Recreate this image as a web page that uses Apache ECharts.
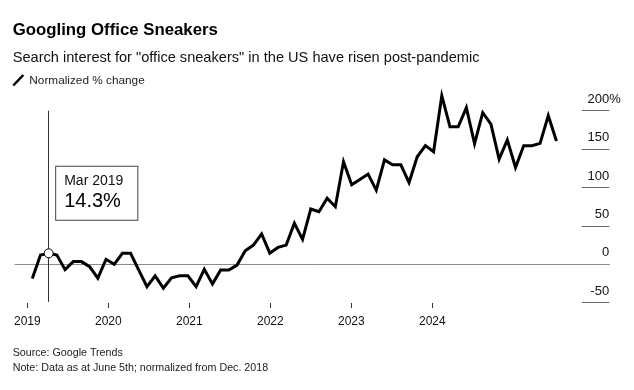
<!DOCTYPE html>
<html><head><meta charset="utf-8">
<script src="https://cdn.jsdelivr.net/npm/echarts@6/dist/echarts.min.js"></script>
<style>html,body{margin:0;padding:0;background:#fff}#c{width:634px;height:390px}</style>
</head><body><div id="c"></div>
<script>
// ---- data ----
const monthNames = ['Jan','Feb','Mar','Apr','May','Jun','Jul','Aug','Sep','Oct','Nov','Dec'];
const months = [];
for (let y = 2019; y <= 2024; y++) for (let m = 0; m < 12; m++) if (months.length < 65) months.push(monthNames[m] + ' ' + y);
const values = [
  -18.5, 12, 14.3, 12, -7, 3.5, 3.5, -3, -18, 6.5, 0, 14.3,
  14.3, -7.5, -29, -15, -31, -17.5, -15, -15, -29, -6.5, -25.5, -7.5,
  -7.5, -1, 17.5, 25, 39.5, 14.5, 22, 25, 53.5, 32.5, 72, 68.5,
  86, 75, 133.5, 103.5, 110.5, 117.5, 96.5, 136, 129.5, 129.5, 106.5, 140,
  154.5, 146.5, 219.5, 179, 179, 204, 157, 197.5, 182.5, 137, 162, 126,
  154.5, 154.5, 157.5, 193.5, 160.5
];
const yearTicks = [2019, 2020, 2021, 2022, 2023, 2024];
const yTicks = [-50, 0, 50, 100, 150, 200];
const highlightMonth = 'Mar 2019';

const FONT = '"Liberation Sans", Arial, Helvetica, sans-serif';
const hi = months.indexOf(highlightMonth);
const seriesData = values.map((v, i) => [i, v]);

const chart = echarts.init(document.getElementById('c'));
chart.setOption({
  animation: false,
  backgroundColor: '#fff',
  textStyle: { fontFamily: FONT },
  graphic: [
    { type: 'text', x: 12.7, y: 30, style: { text: 'Googling Office Sneakers', font: 'bold 16.8px ' + FONT, fill: '#000', verticalAlign: 'middle' } },
    { type: 'text', x: 12.7, y: 57.8, style: { text: 'Search interest for "office sneakers" in the US have risen post-pandemic', font: '14.6px ' + FONT, fill: '#111', verticalAlign: 'middle' } },
    { type: 'line', shape: { x1: 13.3, y1: 85.5, x2: 23.3, y2: 75 }, style: { stroke: '#000', lineWidth: 2.5 } },
    { type: 'text', x: 29.3, y: 80.7, style: { text: 'Normalized % change', font: '11.8px ' + FONT, fill: '#222', verticalAlign: 'middle' } },
    { type: 'text', x: 12.7, y: 352.7, style: { text: 'Source: Google Trends', font: '10.7px ' + FONT, fill: '#222', verticalAlign: 'middle' } },
    { type: 'text', x: 12.7, y: 368.3, style: { text: 'Note: Data as at June 5th; normalized from Dec. 2018', font: '10.7px ' + FONT, fill: '#222', verticalAlign: 'middle' } }
  ],
  grid: [
    { left: 15, top: 72.3, width: 594.3, height: 230.4 },
    { left: 581.7, top: 110.7, width: 27.6, height: 192 },
    { left: 27.3, top: 72.3, width: 405, height: 230.7 }
  ],
  xAxis: [
    { gridIndex: 0, type: 'value', min: -2.112, max: 70.452,
      axisLine: { show: true, onZero: true, lineStyle: { color: '#8c8c8c', width: 1 } },
      axisTick: { show: false }, axisLabel: { show: false }, splitLine: { show: false } },
    { gridIndex: 1, type: 'value', show: false },
    { gridIndex: 2, type: 'value', min: yearTicks[0], max: yearTicks[yearTicks.length - 1], interval: 1, position: 'bottom',
      axisLine: { show: false },
      axisTick: { show: true, length: 5, lineStyle: { color: '#333', width: 1 } },
      axisLabel: { margin: 13, fontSize: 12, color: '#111', fontFamily: FONT, showMinLabel: true, showMaxLabel: true, formatter: v => String(v) },
      splitLine: { show: false } }
  ],
  yAxis: [
    { gridIndex: 0, type: 'value', min: -50, max: 250, show: false },
    { gridIndex: 1, type: 'value', min: yTicks[0], max: yTicks[yTicks.length - 1], interval: 50, position: 'right',
      axisLine: { show: false }, axisTick: { show: false },
      splitLine: { show: true, lineStyle: { color: '#666', width: 1 } },
      axisLabel: {
        margin: 11.4, align: 'right', verticalAlign: 'bottom', padding: [0, 0, 5, 0],
        fontSize: 13, color: '#111', fontFamily: FONT,
        formatter: v => v === yTicks[yTicks.length - 1] ? '{n|' + v + '}{p|%}' : '{n|' + v + '}{h|%}',
        rich: { n: { fontSize: 13, color: '#111' }, p: { fontSize: 13, color: '#111' }, h: { fontSize: 13, color: 'rgba(0,0,0,0)' } }
      } },
    { gridIndex: 2, type: 'value', show: false }
  ],
  series: [{
    type: 'line', xAxisIndex: 0, yAxisIndex: 0, data: seriesData,
    showSymbol: false, silent: true,
    lineStyle: { color: '#000', width: 3, join: 'miter', miterLimit: 10 },
    markLine: {
      silent: true, symbol: ['none', 'none'], label: { show: false },
      lineStyle: { color: '#333', width: 1, type: 'solid' },
      data: [[{ coord: [hi, 200] }, { coord: [hi, -49] }]]
    },
    markPoint: {
      silent: true, symbol: 'circle', symbolSize: 9,
      itemStyle: { color: '#fff', borderColor: '#000', borderWidth: 1 },
      label: {
        show: true, position: [12.5, -81.5],
        formatter: '{a|' + months[hi] + '}\n{b|' + values[hi] + '%}',
        backgroundColor: '#fff', borderColor: '#444', borderWidth: 1, padding: [5, 14, 6, 8],
        rich: {
          a: { fontSize: 14, lineHeight: 18, color: '#111', fontFamily: FONT },
          b: { fontSize: 20, lineHeight: 24, color: '#000', fontFamily: FONT }
        }
      },
      data: [{ coord: [hi, values[hi]] }]
    }
  }]
});
</script>
</body></html>
